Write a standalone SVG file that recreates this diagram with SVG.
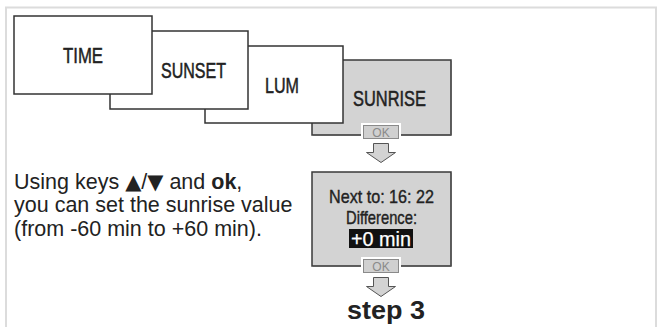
<svg xmlns="http://www.w3.org/2000/svg" width="657" height="327" viewBox="0 0 657 327">
<style>
.frame{fill:none;stroke:#dcdcdc;stroke-width:2}
.wbox{fill:#fff;stroke:#333;stroke-width:1.5}
.gbox{fill:#d3d3d3;stroke:#3a3a3a;stroke-width:1.5}
.lbl{font-family:"Liberation Sans",Arial,sans-serif;font-size:22px;fill:#222;stroke:#222;stroke-width:0.5}
.inner{font-family:"Liberation Sans",Arial,sans-serif;font-size:19px;fill:#222;stroke:#222;stroke-width:0.4}
.body{font-family:"Liberation Sans",Arial,sans-serif;font-size:21.5px;fill:#222}
.tri{font-family:"DejaVu Sans",sans-serif;font-size:21px}
.okw{fill:#fff}
.okb{fill:#d0d0d0;stroke:#8a8a8a;stroke-width:1}
.okt{font-family:"Liberation Sans",Arial,sans-serif;font-size:12px;fill:#8a8a8a;text-anchor:middle}
.arr{fill:#d3d3d3;stroke:#555;stroke-width:1}
</style>
<path class="frame" d="M6,328 V7.5 H656 V328"/>
<g id="sunrise">
<rect class="gbox" x="312" y="60" width="139" height="75"/>
<path d="M451,61 V135 H313" fill="none" stroke="#555" stroke-width="1"/>
<text class="lbl" x="353" y="106" textLength="73" lengthAdjust="spacingAndGlyphs">SUNRISE</text>
</g>
<g id="lum">
<rect class="wbox" x="205" y="46" width="138" height="77"/>
<text class="lbl" x="265" y="93" textLength="34" lengthAdjust="spacingAndGlyphs">LUM</text>
</g>
<g id="sunset">
<rect class="wbox" x="110" y="31" width="138" height="78"/>
<text class="lbl" x="161" y="78" textLength="65" lengthAdjust="spacingAndGlyphs">SUNSET</text>
</g>
<g id="time">
<rect class="wbox" x="14" y="16" width="138" height="78"/>
<text class="lbl" x="63" y="63" textLength="40" lengthAdjust="spacingAndGlyphs">TIME</text>
</g>
<g id="ok1">
<rect class="okw" x="361" y="123" width="40" height="18"/>
<rect class="okb" x="363.5" y="125.5" width="35" height="13"/>
<text class="okt" x="381" y="136.5">OK</text>
</g>
<g id="setting">
<rect class="gbox" x="312" y="172" width="139" height="94"/>
<path d="M451,173 V266 H313" fill="none" stroke="#555" stroke-width="1"/>
<text class="inner" x="329" y="203" textLength="105" lengthAdjust="spacingAndGlyphs">Next to: 16: 22</text>
<text class="inner" x="346" y="224" textLength="71" lengthAdjust="spacingAndGlyphs">Difference:</text>
<rect x="349" y="229" width="64" height="19" fill="#111"/>
<text class="inner" x="351" y="246" textLength="60" lengthAdjust="spacingAndGlyphs" style="font-size:20px;fill:#fff;stroke:#fff;stroke-width:0.25">+0 min</text>
</g>
<g id="ok2">
<rect class="okw" x="361" y="257" width="40" height="18"/>
<rect class="okb" x="363.5" y="259.5" width="35" height="13"/>
<text class="okt" x="381" y="270.5">OK</text>
</g>
<g id="connectors">
<path class="arr" d="M373.5,143.5 H388.5 V152.5 H395.5 L381,162.5 L366.5,152.5 H373.5 Z"/>
<path class="arr" d="M373.5,277.5 H388.5 V286.5 H395.5 L381,296.5 L366.5,286.5 H373.5 Z"/>
</g>
<g id="step3">
<text x="347" y="319" style="font-family:'Liberation Sans',Arial,sans-serif;font-size:26px;font-weight:bold;fill:#222" textLength="78" lengthAdjust="spacingAndGlyphs">step 3</text>
</g>
<g id="note">
<text class="body" x="14" y="189">Using keys <tspan class="tri">▲</tspan>/<tspan class="tri">▼</tspan> and <tspan font-weight="bold">ok</tspan>,</text>
<text class="body" x="14" y="212">you can set the sunrise value</text>
<text class="body" x="14" y="236">(from -60 min to +60 min).</text>
</g>
</svg>
